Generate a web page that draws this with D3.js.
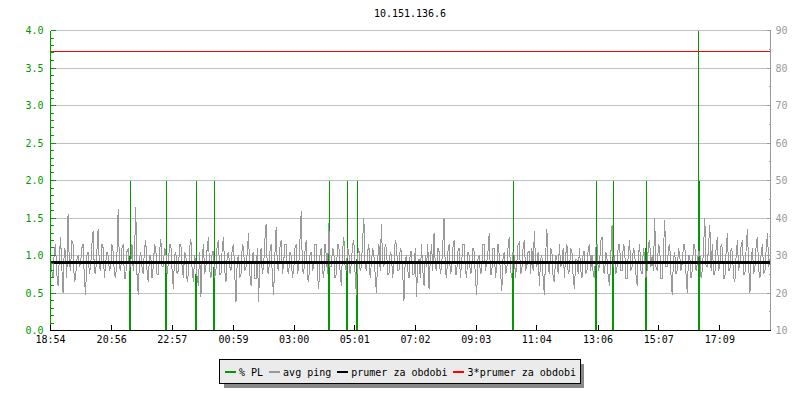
<!DOCTYPE html>
<html>
<head>
<meta charset="utf-8">
<script src="https://cdn.jsdelivr.net/npm/d3@7"></script>
<style>
  html, body { margin: 0; padding: 0; background: #fff; }
  svg { display: block; }
  text { font-family: "DejaVu Sans Mono", monospace; font-size: 10px; }
</style>
</head>
<body>
<svg id="chart" width="800" height="400"></svg>
<script>
// ---------------- data ----------------
const title = "10.151.136.6";
const startClock = "18:54";
const spanMinutes = 1436;
const xTickLabels = ["18:54","20:56","22:57","00:59","03:00","05:01","07:02","09:03","11:04","13:06","15:07","17:09"];
const leftTicks = [0.0, 0.5, 1.0, 1.5, 2.0, 2.5, 3.0, 3.5, 4.0];
const rightTicks = [10, 20, 30, 40, 50, 60, 70, 80, 90];

// avg ping (ms), one sample every 2.5 minutes (one row per hour)
const pingStepMinutes = 2.5;
const avgPing = [
  30,26, 24,31, 33,25, 22,29, 35,27, 20,32, 31,24, 41,28, 26,34, 33,23, 24,29, 30,27,
  28,32, 33,24, 19.5,30, 31,25, 27,33, 36.5,26, 25,31, 37,27, 26,33, 32,24, 28,31, 30,26,
  27,33, 31,25, 24,30, 42.5,27, 26,32, 33,24, 24,31, 32,26, 28,33, 26,30, 43,25, 19.5,29,
  31,27, 25,32, 34,26, 23,30, 30,24, 27,33, 32,25, 25,31, 34.5,27, 27,32, 31,25, 28,33,
  33,26, 21,30, 31,25, 26,33, 33,27, 24,31, 30,23, 25,32, 34.5,26, 23,30, 28,24, 22,31,
  19,29, 33,25, 27,32, 35,26, 24,31, 31,24, 26,33, 34,25, 25,32, 35,26, 23,30, 31,27,
  26,32, 33,25, 17.7,29, 30,24, 25,33, 32,26, 27,31, 36,25, 22,30, 31,24, 24,32, 17.7,28,
  32,25, 27,34, 38.5,26, 25,31, 33,24, 19.5,30, 37.5,27, 26,32, 34,25, 28,33, 33,26, 25,31,
  30,24, 26,32, 33,25, 27,34, 41.8,26, 25,31, 34,24, 23,30, 31,26, 27,33, 33,25, 21,30,
  32,26, 24,33, 30,25, 38.7,27, 27,32, 31,24, 25,33, 33,26, 22,31, 35,27, 26,32, 31,25,
  28,33, 34,25, 19.5,30, 32,26, 27,34, 40,27, 26,31, 33,24, 28,32, 30,25, 20,29, 33,26,
  38.5,28, 27,33, 32,25, 25,31, 30,24, 28,34, 33,26, 26,32, 31,25, 18,29, 30,26, 24,31,
  31,25, 25,32, 19,28, 29,24, 33,26, 22,30, 27,33, 21,29, 33,26, 36,27, 26,32, 31,25,
  27,33, 40,26, 24,31, 33,25, 26,32, 34,25, 25,31, 32,24, 28,33, 33,26, 24,31, 30,25,
  26,32, 31,24, 19.5,29, 30,25, 26,33, 33,26, 28,31, 36,25, 25,32, 32,24, 27,33, 30,26,
  20.5,29, 31,25, 26,32, 35,26, 24,31, 30,24, 28,33, 33.5,25, 26,32, 34,26, 27,31, 31,25,
  32,26, 36.5,28, 27,31, 22,29, 30,24, 19.5,30, 37,27, 25,32, 31,24, 23,30, 29,25, 33,27,
  28,32, 24,30, 33,25, 26,32, 31,24, 21,29, 29,25, 32,26, 24,31, 31,25, 26,32, 33,26,
  30,25, 24,32, 33,26, 27,34, 35,26, 25,31, 29,24, 22,30, 38,27, 30,25, 27,33, 33,26,
  26,33, 32,24, 24,31, 34,26, 27,32, 31,25, 22,30, 33,26, 25,32, 30,24, 26,33, 34,27,
  30,26, 40,27, 26,33, 32,24, 24,31, 39.5,27, 27,32, 33,25, 19.5,29, 31,25, 26,32, 30,26,
  28,33, 33,25, 20,30, 30,24, 26,33, 33,26, 28,31, 31,24, 26,32, 40,27, 27,33, 38,26,
  33,25, 25,32, 35,26, 27,33, 32,24, 24,31, 36,26, 26,32, 31,24, 23,30, 34,26, 28,33,
  34,25, 25,32, 37,27, 20,29, 32,25, 27,33, 35,26, 24,31, 33,25, 26,32, 36,27, 29,31
];

// packet loss samples (minutes from start, % PL)
const plTimes  = [158, 160, 231, 233, 291, 293, 327, 329, 556, 558, 592, 594,
                  612, 614, 923, 925, 1087, 1089, 1121, 1123, 1187, 1189, 1294, 1296];
const plValues = [1.0, 2.0, 0.9, 2.0, 0.75, 2.0, 0.85, 2.0, 1.05, 2.0, 0.9, 2.0,
                  0.95, 2.0, 0.95, 2.0, 0.9, 2.0, 0.98, 2.0, 1.1, 2.0, 4.0, 2.0];

const avgPeriod = 28.1;          // prumer za obdobi (ms)
const triplePeriod = 3 * avgPeriod;

const legendItems = [
  { label: "% PL", color: "#009900" },
  { label: "avg ping", color: "#999999" },
  { label: "prumer za obdobi", color: "#000000" },
  { label: "3*prumer za obdobi", color: "#ff0000" }
];

(function () {
// ---------------- layout ----------------
const svg = d3.select("#chart");
const pLeft = 50.5, pRight = 770.5, pTop = 30.5, pBottom = 330.5;
const GREEN = "#009900", GRAY = "#999999", GRID = "#c0c0c0";

function clockToOffset(s) {
  const [h, m] = s.split(":").map(Number);
  const [h0, m0] = startClock.split(":").map(Number);
  return ((h * 60 + m) - (h0 * 60 + m0) + 1440) % 1440;
}

const x = d3.scaleLinear().domain([0, spanMinutes]).range([pLeft, pRight]);
const yL = d3.scaleLinear().domain([0, 4]).range([pBottom, pTop]);
const yR = d3.scaleLinear().domain([10, 90]).range([pBottom, pTop]);
const snap = v => Math.round(v - 0.5) + 0.5;

svg.append("rect").attr("width", 800).attr("height", 400).attr("fill", "#fff");
svg.append("defs").append("clipPath").attr("id", "plotClip")
  .append("rect").attr("x", pLeft).attr("y", pTop).attr("width", pRight - pLeft).attr("height", pBottom - pTop);

// title
svg.append("text").attr("x", 410).attr("y", 17).attr("text-anchor", "middle")
  .attr("fill", "#000").text(title);

// grid
svg.append("g").selectAll("line").data(leftTicks.filter(d => d > 0)).join("line")
  .attr("x1", pLeft).attr("x2", pRight)
  .attr("y1", d => snap(yL(d))).attr("y2", d => snap(yL(d)))
  .attr("stroke", GRID).attr("stroke-width", 1).attr("shape-rendering", "crispEdges");

// packet loss bars
svg.append("g").selectAll("rect").data(plTimes.map((t, i) => ({ t, v: plValues[i] }))).join("rect")
  .attr("x", d => Math.round(x(d.t)) - 1)
  .attr("width", 1)
  .attr("y", d => yL(d.v))
  .attr("height", d => yL(0) - yL(d.v))
  .attr("fill", GREEN).attr("shape-rendering", "crispEdges");

// avg ping line
const pingLine = d3.line()
  .x((d, i) => x(i * pingStepMinutes))
  .y(d => yR(d));
svg.append("path").datum(avgPing).attr("d", pingLine)
  .attr("clip-path", "url(#plotClip)")
  .attr("fill", "none").attr("stroke", GRAY).attr("stroke-width", 1)
  .attr("shape-rendering", "crispEdges");

// average & triple average lines
svg.append("line").attr("x1", pLeft).attr("x2", pRight)
  .attr("y1", yR(avgPeriod)).attr("y2", yR(avgPeriod))
  .attr("stroke", "#000").attr("stroke-width", 2.5).attr("shape-rendering", "crispEdges");
svg.append("line").attr("x1", pLeft).attr("x2", pRight)
  .attr("y1", snap(yR(triplePeriod))).attr("y2", snap(yR(triplePeriod)))
  .attr("stroke", "#ff0000").attr("stroke-width", 1).attr("shape-rendering", "crispEdges");

// left axis (green, ticks inside)
const gL = svg.append("g").attr("transform", `translate(${pLeft},0)`);
gL.append("line").attr("y1", pTop).attr("y2", pBottom).attr("stroke", GREEN).attr("shape-rendering", "crispEdges");
const minorL = d3.range(0, 41).map(i => i / 10);
gL.selectAll("line.tk").data(minorL).join("line").attr("class", "tk")
  .attr("x1", 0).attr("x2", d => (Math.abs(d * 2 - Math.round(d * 2)) < 1e-6 ? 5 : 3))
  .attr("y1", d => snap(yL(d))).attr("y2", d => snap(yL(d)))
  .attr("stroke", GREEN).attr("shape-rendering", "crispEdges");
gL.selectAll("text").data(leftTicks).join("text")
  .attr("x", -7).attr("y", d => yL(d) + 3.5).attr("text-anchor", "end")
  .attr("fill", GREEN).text(d => d.toFixed(1));

// right axis (gray, ticks inside)
const gR = svg.append("g").attr("transform", `translate(${pRight},0)`);
gR.append("line").attr("y1", pTop).attr("y2", pBottom).attr("stroke", GRAY).attr("shape-rendering", "crispEdges");
const minorR = d3.range(10, 91, 5);
gR.selectAll("line.tk").data(minorR).join("line").attr("class", "tk")
  .attr("x1", 0).attr("x2", d => (d % 10 === 0 ? -4 : -2))
  .attr("y1", d => snap(yR(d))).attr("y2", d => snap(yR(d)))
  .attr("stroke", GRAY).attr("shape-rendering", "crispEdges");
gR.selectAll("text").data(rightTicks).join("text")
  .attr("x", 5).attr("y", d => yR(d) + 3.5).attr("text-anchor", "start")
  .attr("fill", GRAY).text(d => d);

// bottom axis (black, ticks inside)
const gB = svg.append("g").attr("transform", `translate(0,${pBottom})`);
gB.append("line").attr("x1", pLeft).attr("x2", pRight).attr("stroke", "#000").attr("shape-rendering", "crispEdges");
const xTicks = xTickLabels.map(s => ({ s, t: clockToOffset(s) }));
gB.selectAll("line.tk").data(xTicks).join("line").attr("class", "tk")
  .attr("x1", d => snap(x(d.t))).attr("x2", d => snap(x(d.t)))
  .attr("y1", 0).attr("y2", -6)
  .attr("stroke", "#000").attr("shape-rendering", "crispEdges");
gB.selectAll("text").data(xTicks).join("text")
  .attr("x", d => x(d.t)).attr("y", 12.5).attr("text-anchor", "middle")
  .attr("fill", "#000").text(d => d.s);

// legend
const lg = svg.append("g");
const shadow = lg.append("rect");
const box = lg.append("rect");
const items = lg.append("g");
let cx = 5;
legendItems.forEach(it => {
  items.append("rect").attr("x", cx).attr("y", 12).attr("width", 11).attr("height", 2)
    .attr("fill", it.color).attr("shape-rendering", "crispEdges");
  const t = items.append("text").attr("x", cx + 14.5).attr("y", 16.5).attr("fill", "#000").text(it.label);
  cx += 14.5 + t.node().getComputedTextLength() + 5.5;
});
const boxW = cx - 1;
const boxX = Math.round(399 - boxW / 2) + 0.5;
items.attr("transform", `translate(${boxX},${359})`);
shadow.attr("x", boxX + 4).attr("y", 363.5).attr("width", boxW).attr("height", 24)
  .attr("fill", "#888").attr("shape-rendering", "crispEdges");
box.attr("x", boxX).attr("y", 359.5).attr("width", boxW).attr("height", 24)
  .attr("fill", "#ebebeb").attr("stroke", "#000").attr("stroke-width", 1).attr("shape-rendering", "crispEdges");
})();
</script>
</body>
</html>
